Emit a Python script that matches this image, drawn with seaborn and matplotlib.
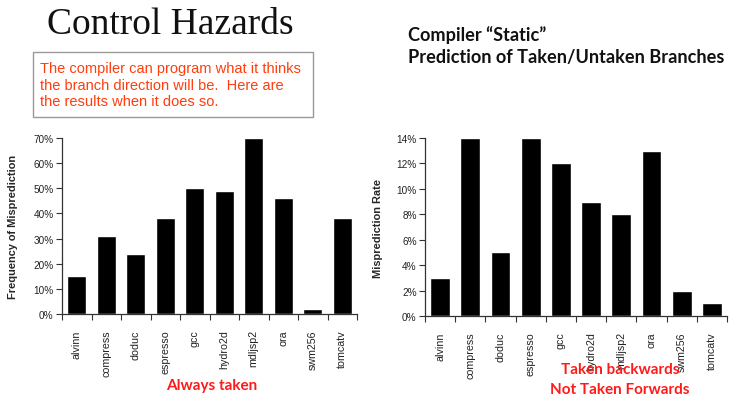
import numpy as np
import pandas as pd
import matplotlib
matplotlib.use("Agg")
import matplotlib.pyplot as plt
import seaborn as sns
from matplotlib.ticker import PercentFormatter, FixedLocator, MultipleLocator
from matplotlib.patches import Rectangle

# benchmark data
benchmarks = ["alvinn", "compress", "doduc", "espresso", "gcc",
              "hydro2d", "mdljsp2", "ora", "swm256", "tomcatv"]
always_taken = [15, 31, 24, 38, 50, 49, 70, 46, 2, 38]
backward_taken = [3, 14, 5, 14, 12, 9, 8, 13, 2, 1]

sns.set_style("white")
plt.rcParams['font.family'] = ['Liberation Sans', 'DejaVu Sans']

W, H = 734, 402
fig = plt.figure(figsize=(W / 100, H / 100), dpi=100)


def px_axes(x0, y_top, x1, y_bot):
    return fig.add_axes([x0 / W, 1 - y_bot / H, (x1 - x0) / W, (y_bot - y_top) / H])


def style_axis(ax, ymax, step, ylabel, label_x):
    ax.set_xlim(-0.5, 9.5)
    ax.set_ylim(0, ymax)
    ax.yaxis.set_major_locator(MultipleLocator(step))
    ax.yaxis.set_major_formatter(PercentFormatter(decimals=0))
    ax.xaxis.set_minor_locator(FixedLocator(np.arange(-0.5, 10, 1)))
    ax.tick_params(axis='x', which='major', length=0, pad=11, labelsize=7.7,
                   labelrotation=90, labelcolor='#222222')
    ax.tick_params(axis='x', which='minor', length=4, width=0.8, color='#333333',
                   direction='out', bottom=True)
    ax.tick_params(axis='y', length=4, width=0.8, color='#333333', direction='out',
                   left=True, pad=2, labelsize=7.2, labelcolor='#222222')
    for s in ['top', 'right']:
        ax.spines[s].set_visible(False)
    for s in ['left', 'bottom']:
        ax.spines[s].set_color('#333333')
        ax.spines[s].set_linewidth(0.9)
    ax.set_xlabel("")
    ax.set_ylabel(ylabel, fontsize=7.9, fontweight='bold')
    ax.yaxis.set_label_coords(label_x, 0.5)
    for lab in ax.get_xticklabels():
        lab.set_va('top')


# left chart: always taken
ax1 = px_axes(62, 139, 357, 315)
df1 = pd.DataFrame({"bench": benchmarks, "rate": always_taken})
sns.barplot(data=df1, x="bench", y="rate", color="black", saturation=1,
            width=0.65, ax=ax1)
style_axis(ax1, 70, 10, "Frequency of Misprediction", -0.15)

# right chart: taken backwards / not taken forwards
ax2 = px_axes(425, 139, 727, 317)
df2 = pd.DataFrame({"bench": benchmarks, "rate": backward_taken})
sns.barplot(data=df2, x="bench", y="rate", color="black", saturation=1,
            width=0.65, ax=ax2)
style_axis(ax2, 14, 2, "Misprediction Rate", -0.14)

# slide text
fig.text(170 / W, 1 - 25 / H, "Control Hazards", family='Liberation Serif',
         fontsize=27, ha='center', va='center', color='#111111')
fig.patches.append(Rectangle((33 / W, 1 - 118 / H), 280 / W, 65 / H,
                             transform=fig.transFigure, fill=False,
                             edgecolor='#999999', linewidth=1))
fig.text(40 / W, 1 - 62 / H,
         "The compiler can program what it thinks\nthe branch direction will be.  Here are\nthe results when it does so.",
         fontsize=10.5, color='#FF3D0D', ha='left', va='top', linespacing=1.25)
fig.text(408 / W, 1 - 35 / H, "Compiler \u201cStatic\u201d", family='Lato',
         fontweight='bold', fontsize=13.1, ha='left', va='center', color='#111111')
fig.text(408 / W, 1 - 57 / H, "Prediction of Taken/Untaken Branches", family='Lato',
         fontweight='bold', fontsize=13.1, ha='left', va='center', color='#111111')

fig.text(212 / W, 1 - 386 / H, "Always taken", family='Lato', fontweight='bold',
         fontsize=11, color='#FF1A1A', ha='center', va='center')
fig.text(620 / W, 1 - 370 / H, "Taken backwards", family='Lato', fontweight='bold',
         fontsize=11, color='#FF1A1A', ha='center', va='center')
fig.text(620 / W, 1 - 390 / H, "Not Taken Forwards", family='Lato', fontweight='bold',
         fontsize=11, color='#FF1A1A', ha='center', va='center')

fig.savefig("out.png", dpi=100)
